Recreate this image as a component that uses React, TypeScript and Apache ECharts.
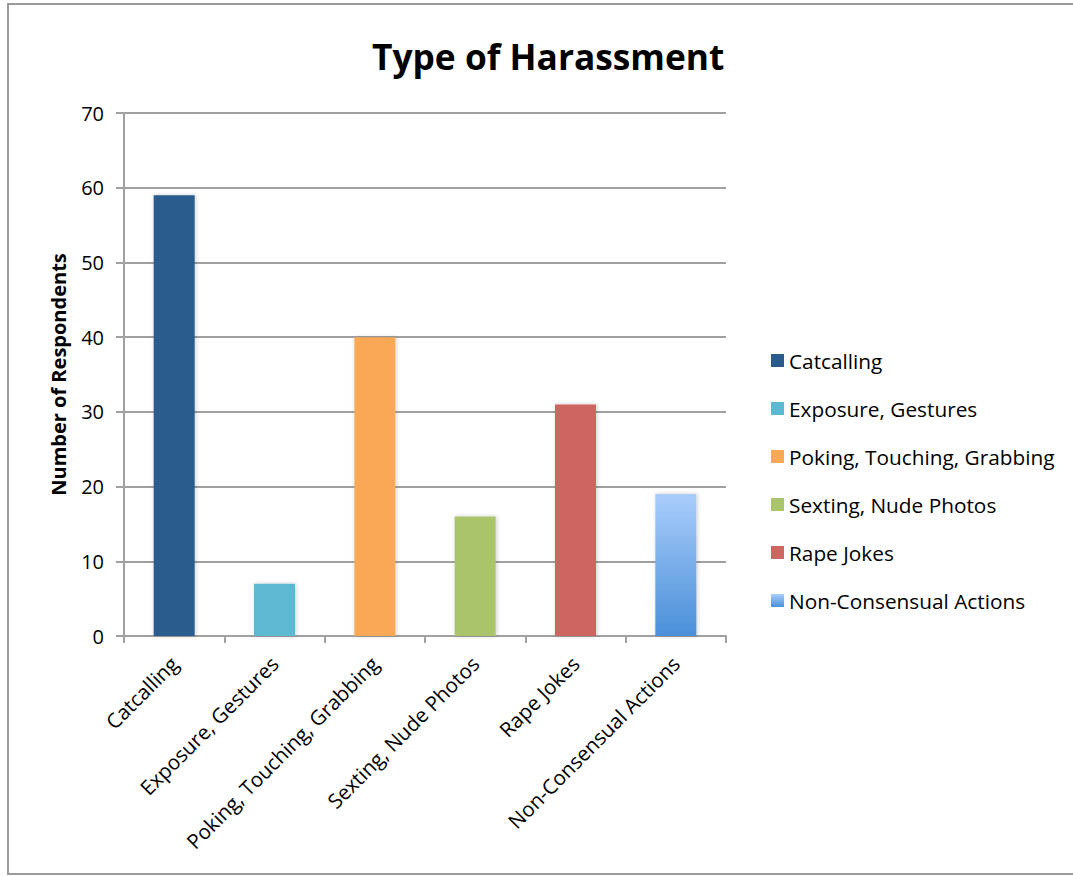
import React, { useEffect, useRef } from "react";
import * as echarts from "echarts";

const categories = [
  "Catcalling",
  "Exposure, Gestures",
  "Poking, Touching, Grabbing",
  "Sexting, Nude Photos",
  "Rape Jokes",
  "Non-Consensual Actions",
];
const values = [59, 7, 40, 16, 31, 19];
const colors: any[] = [
  "#2a5b8d",
  "#5bb9d1",
  "#f9a854",
  "#aac46c",
  "#cd6560",
  {
    type: "linear",
    x: 0,
    y: 0,
    x2: 0,
    y2: 1,
    colorStops: [
      { offset: 0, color: "#a9cdfb" },
      { offset: 1, color: "#4a8fd8" },
    ],
  },
];
const yTicks = { min: 0, max: 70, interval: 10 };

const FONT = "'Open Sans', 'Liberation Sans', sans-serif";

export default function App() {
  const ref = useRef<HTMLDivElement>(null);
  useEffect(() => {
    if (!ref.current) return;
    const chart = echarts.init(ref.current, undefined, { renderer: "svg" });
    const series = categories.map((name, i) => ({
      name,
      type: "bar",
      stack: "all",
      barWidth: 41,
      data: categories.map((_, j) => (j === i ? values[i] : "-")),
      itemStyle: {
        color: colors[i],
        shadowBlur: 4,
        shadowColor: "rgba(0,0,0,0.2)",
        shadowOffsetX: 1,
      },
    }));
    chart.setOption({
      animation: false,
      backgroundColor: "#fff",
      textStyle: { fontFamily: FONT },
      title: {
        text: "Type of Harassment",
        left: 367,
        top: 33,
        textStyle: { fontFamily: FONT, fontSize: 35.3, fontWeight: "bold", color: "#000" },
      },
      graphic: [
        {
          type: "rect",
          shape: { x: 8, y: 4, width: 1080, height: 870 },
          style: { fill: "none", stroke: "#9a9a9a", lineWidth: 2 },
          silent: true,
        },
      ],
      legend: {
        orient: "vertical",
        left: 766,
        top: 345,
        icon: "rect",
        itemWidth: 13,
        itemHeight: 13,
        itemGap: 27,
        textStyle: { fontFamily: FONT, fontSize: 20.8, color: "#000" },
        data: categories,
      },
      grid: { left: 124, right: 347, top: 113, bottom: 241, containLabel: false },
      xAxis: {
        type: "category",
        data: categories,
        axisLine: { lineStyle: { color: "#a0a0a0", width: 2 } },
        axisTick: { show: true, length: 7, lineStyle: { color: "#a0a0a0", width: 2 } },
        axisLabel: {
          rotate: 45,
          interval: 0,
          fontSize: 20.5,
          color: "#000",
          margin: 24,
          fontFamily: FONT,
        },
      },
      yAxis: {
        type: "value",
        min: yTicks.min,
        max: yTicks.max,
        interval: yTicks.interval,
        name: "Number of Respondents",
        nameLocation: "middle",
        nameRotate: 90,
        nameGap: 56,
        nameTextStyle: { fontFamily: FONT, fontSize: 20, fontWeight: "bold", color: "#000" },
        axisLine: { show: true, lineStyle: { color: "#a0a0a0", width: 2 } },
        axisTick: { show: true, length: 8, lineStyle: { color: "#a0a0a0", width: 2 } },
        axisLabel: { fontSize: 20, color: "#000", margin: 20, fontFamily: FONT },
        splitLine: { lineStyle: { color: "#a0a0a0", width: 2 } },
      },
      series,
    });
    return () => chart.dispose();
  }, []);
  return (
    <div
      ref={ref}
      style={{ position: "absolute", left: 0, top: 0, width: 1073, height: 877 }}
    />
  );
}
